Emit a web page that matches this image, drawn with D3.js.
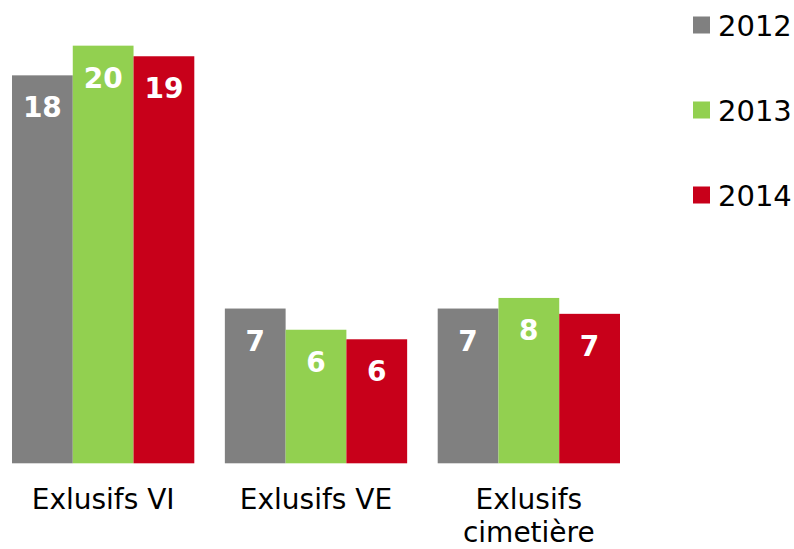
<!DOCTYPE html>
<html>
<head>
<meta charset="utf-8">
<script src="https://cdn.jsdelivr.net/npm/d3@7"></script>
<style>
  body { margin: 0; background: #fff; }
  svg { display: block; }
</style>
</head>
<body>
<div id="chart"></div>
<script>
// data
var categories = ["Exlusifs VI", "Exlusifs VE", "Exlusifs\ncimetière"];
var years = ["2012", "2013", "2014"];
var v2012 = [18.3, 7.3, 7.3];
var v2013 = [19.7, 6.3, 7.8];
var v2014 = [19.2, 5.85, 7.05];
var colors = ["#808080", "#92D050", "#C8001A"];

var series = [v2012, v2013, v2014];

var W = 794, H = 549;
var baseline = 463.3;

var svg = d3.select("#chart").append("svg")
    .attr("width", W)
    .attr("height", H);

// scales
var x0 = d3.scaleBand()
    .domain(categories)
    .range([12, 620])
    .paddingInner(0.1435)
    .paddingOuter(0);

var x1 = d3.scaleBand()
    .domain(years)
    .range([0, x0.bandwidth()])
    .padding(0);

var y = d3.scaleLinear()
    .domain([0, 20])
    .range([baseline, baseline - 20 * 21.2]);

var color = d3.scaleOrdinal().domain(years).range(colors);

// build rows
var rows = categories.map(function(c, i) {
  return years.map(function(yr, j) {
    return {cat: c, year: yr, value: series[j][i]};
  });
});

var groups = svg.selectAll(".grp")
    .data(rows)
  .enter().append("g")
    .attr("class", "grp")
    .attr("transform", function(d, i) { return "translate(" + x0(categories[i]) + ",0)"; });

groups.selectAll("rect")
    .data(function(d) { return d; })
  .enter().append("rect")
    .attr("x", function(d) { return x1(d.year); })
    .attr("width", x1.bandwidth())
    .attr("y", function(d) { return y(d.value); })
    .attr("height", function(d) { return baseline - y(d.value); })
    .style("fill", function(d) { return color(d.year); });

// value labels inside the bars
groups.selectAll(".val")
    .data(function(d) { return d; })
  .enter().append("text")
    .attr("class", "val")
    .attr("x", function(d) { return x1(d.year) + x1.bandwidth() / 2; })
    .attr("y", function(d) { return y(d.value) + 42; })
    .attr("text-anchor", "middle")
    .style("font-family", "'DejaVu Sans', Verdana, sans-serif")
    .style("font-weight", "bold")
    .style("font-size", "28px")
    .style("fill", "#fff")
    .text(function(d) { return Math.round(d.value); });

// category labels
var catLabels = svg.selectAll(".cat")
    .data(categories)
  .enter().append("text")
    .attr("class", "cat")
    .attr("x", function(d) { return x0(d) + x0.bandwidth() / 2; })
    .attr("y", 509)
    .attr("text-anchor", "middle")
    .style("font-family", "'DejaVu Sans', Verdana, sans-serif")
    .style("font-size", "28px")
    .style("fill", "#000");

catLabels.selectAll("tspan")
    .data(function(d) { return d.split("\n"); })
  .enter().append("tspan")
    .attr("x", function() { var p = this.parentNode.__data__; return x0(p) + x0.bandwidth() / 2; })
    .attr("dy", function(d, i) { return i === 0 ? 0 : 33; })
    .text(function(d) { return d; });

// legend
var legend = svg.selectAll(".leg")
    .data(years)
  .enter().append("g")
    .attr("class", "leg")
    .attr("transform", function(d, i) { return "translate(693," + (25 + i * 85) + ")"; });

legend.append("rect")
    .attr("x", 0)
    .attr("y", -8.5)
    .attr("width", 17)
    .attr("height", 17)
    .style("fill", function(d) { return color(d); });

legend.append("text")
    .attr("x", 25)
    .attr("y", 11)
    .style("font-family", "'DejaVu Sans', Verdana, sans-serif")
    .style("font-size", "29px")
    .style("fill", "#000")
    .text(function(d) { return d; });
</script>
</body>
</html>
